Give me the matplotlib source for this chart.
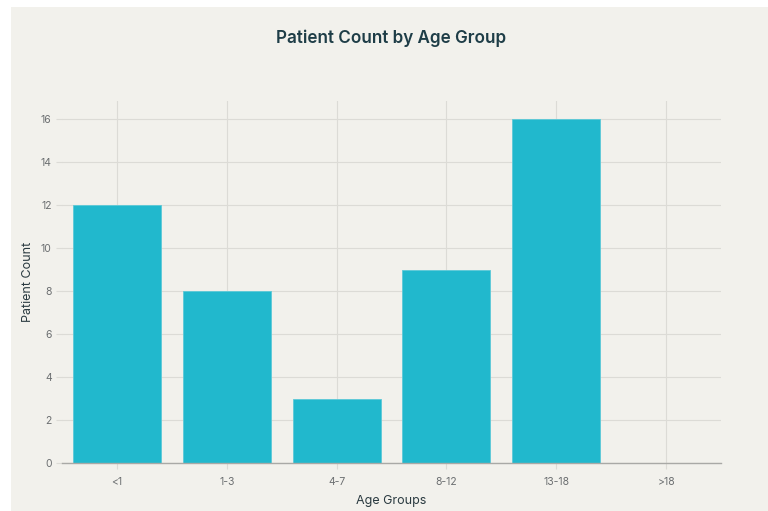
import matplotlib
matplotlib.use("Agg")
import matplotlib.pyplot as plt
from matplotlib.patches import Rectangle

categories = ["<1", "1-3", "4-7", "8-12", "13-18", ">18"]
counts = [12, 8, 3, 9, 16, 0]
yticks = [0, 2, 4, 6, 8, 10, 12, 14, 16]

plt.rcParams['font.family'] = ['Inter', 'DejaVu Sans']

W, H = 768, 511
fig = plt.figure(figsize=(W/100, H/100), dpi=100, facecolor="white")
bg = "#f2f1ec"
fig.patches.append(Rectangle((11/W, 0), 1 - 11/W, 1 - 7/H, transform=fig.transFigure,
                             facecolor=bg, edgecolor="none", zorder=-10))

ax_w, ax_h = 721 - 62, 463 - 101
ax = fig.add_axes([62/W, 1 - 463/H, ax_w/W, ax_h/H])
ax.set_facecolor(bg)
x = list(range(len(categories)))
ax.bar(x, counts, width=0.8, color="#21b8cd", edgecolor="#5cc9d8", linewidth=0.6, zorder=3)

ax.set_xlim(-0.5, len(categories) - 0.5)
ax.set_ylim(0, 16.85)
ax.set_xticks(x)
ax.set_xticklabels(categories)
ax.set_yticks(yticks)
ax.grid(True, color="#dcdbd6", linewidth=0.8, zorder=0)
for s in ["top", "right", "left"]:
    ax.spines[s].set_visible(False)
ax.spines["bottom"].set_color("#a9a9a6")
ax.spines["bottom"].set_linewidth(1.0)
ax.spines["bottom"].set_zorder(4)
ax.tick_params(axis="both", colors="#dcdbd6", labelcolor="#6b6e70", labelsize=7.5, length=4, width=0.8)
ax.tick_params(axis="x", pad=6)

ax.set_xlabel("Age Groups", fontsize=9, color="#2a3a40", va="center")
ax.set_ylabel("Patient Count", fontsize=9, color="#2a3a40", va="center")
ax.xaxis.set_label_coords(0.5, (463 - 501) / ax_h)
ax.yaxis.set_label_coords((28 - 62) / ax_w, 0.5)
fig.text(391/W, 1 - 38/H, "Patient Count by Age Group", ha="center", va="center",
         fontsize=12.3, fontweight="semibold", color="#1e3d47")

fig.savefig("out.png", dpi=100, facecolor="white")
